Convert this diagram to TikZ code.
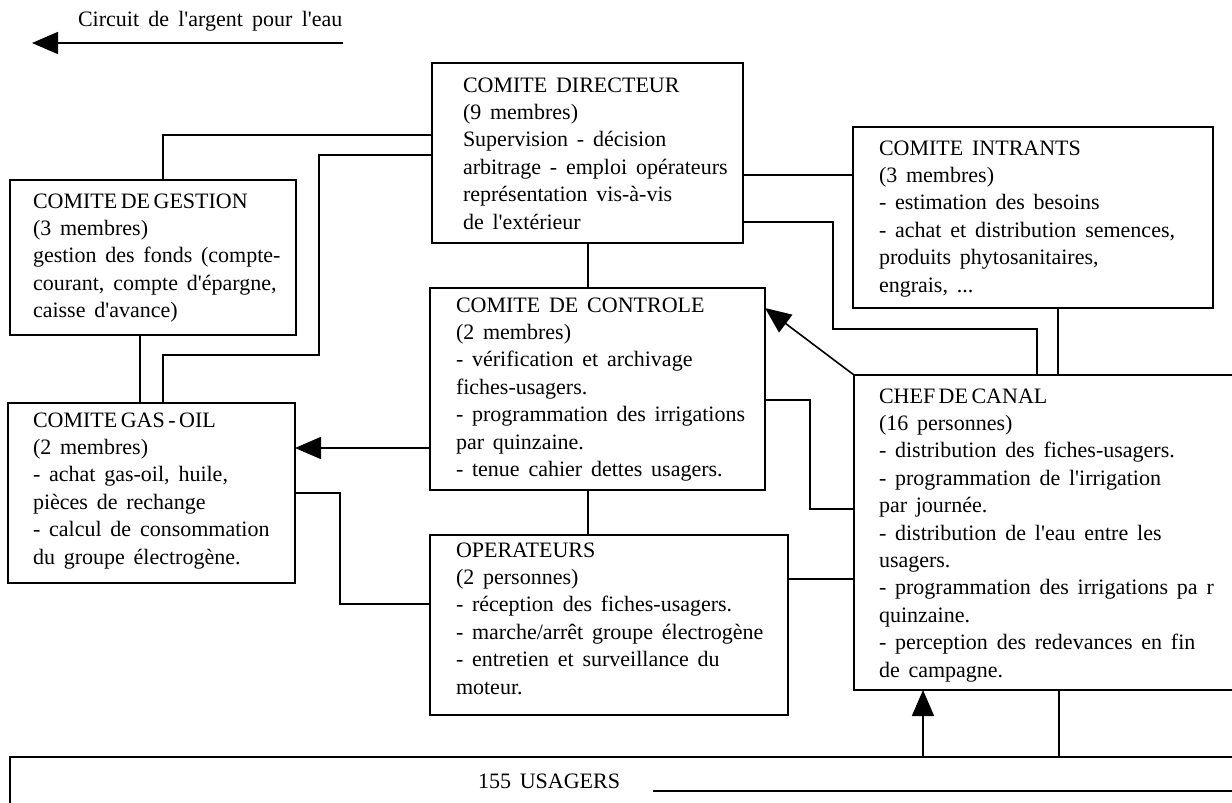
\documentclass[tikz,border=0pt]{standalone}
\usepackage{fontspec}
\setmainfont{Liberation Serif}
\usetikzlibrary{arrows.meta,calc}
\newcommand{\btxt}[1]{\begin{minipage}[t]{400pt}\fontsize{22}{27.4}\selectfont\spaceskip=0.4em plus 0.2em\relax\raggedright #1\end{minipage}}
\newcommand{\tight}[1]{{\spaceskip=3.5pt\relax #1}}
\newcommand{\ap}{\textquotesingle}
\tikzset{
  box/.style={draw, line width=1.6pt, rectangle, inner sep=0pt, outer sep=0pt, anchor=north west},
  txt/.style={inner sep=0pt, outer sep=0pt, anchor=base west},
  link/.style={line width=1.6pt},
  arr/.style={line width=1.6pt, -{Triangle[length=26pt,width=22pt]}},
}
\begin{document}
\begin{tikzpicture}[x=1pt,y=-1pt]
\useasboundingbox (0,0) rectangle (1232,803);
\clip (0,0) rectangle (1232,803);

% legend
\node[txt] (leg) at (78,27) {\fontsize{22}{25}\selectfont\spaceskip=0.42em plus 0.2em\relax Circuit de l\ap argent pour l\ap eau};
\coordinate (legR) at (343,43);
\coordinate (legL) at (32,43);
\draw[arr] (legR) -- (legL);

% boxes
\node[box, minimum width=311pt, minimum height=180pt] (dir) at (432,63) {};
\node[box, minimum width=286pt, minimum height=155pt] (ges) at (10,180) {};
\node[box, minimum width=360pt, minimum height=181pt] (intr) at (853,127) {};
\node[box, minimum width=335pt, minimum height=202pt] (ctrl) at (430,288) {};
\node[box, minimum width=287pt, minimum height=180pt] (gas) at (8,403) {};
\node[box, minimum width=400pt, minimum height=315pt] (chef) at (854,375) {};
\node[box, minimum width=358pt, minimum height=180pt] (op) at (430,535) {};
\node[box, minimum width=1240pt, minimum height=70pt] (usa) at (10,757) {};

% texts
\node[txt] (tdir) at (463,92) {\btxt{COMITE DIRECTEUR\\(9 membres)\\Supervision - décision\\arbitrage - emploi opérateurs\\représentation vis-à-vis\\de l\ap extérieur}};
\node[txt] (tges) at (33,208) {\btxt{\tight{COMITE DE GESTION}\\(3 membres)\\gestion des fonds (compte-\\courant, compte d\ap épargne,\\caisse d\ap avance)}};
\node[txt] (tintr) at (879,155) {\btxt{COMITE INTRANTS\\(3 membres)\\- estimation des besoins\\- achat et distribution semences,\\produits phytosanitaires,\\engrais, ...}};
\node[txt] (tctrl) at (456,312) {\btxt{COMITE DE CONTROLE\\(2 membres)\\- vérification et archivage\\fiches-usagers.\\- programmation des irrigations\\par quinzaine.\\- tenue cahier dettes usagers.}};
\node[txt] (tgas) at (33,427) {\btxt{\tight{COMITE GAS - OIL}\\(2 membres)\\- achat gas-oil, huile,\\pièces de rechange\\- calcul de consommation\\du groupe électrogène.}};
\node[txt] (tchef) at (879,403) {\btxt{\tight{CHEF DE CANAL}\\(16 personnes)\\- distribution des fiches-usagers.\\- programmation de l\ap irrigation\\par journée.\\- distribution de l\ap eau entre les\\usagers.\\- programmation des irrigations pa r\\quinzaine.\\- perception des redevances en fin\\de campagne.}};
\node[txt] (top) at (456,557) {\btxt{OPERATEURS\\(2 personnes)\\- réception des fiches-usagers.\\- marche/arrêt groupe électrogène\\- entretien et surveillance du\\moteur.}};
\node[txt] (tusa) at (478,788) {\btxt{155 USAGERS}};

% connectors
\draw[link] (ges.north -| 163,0) |- (dir.west |- 0,135);
\draw[link] (gas.north -| 163,0) |- (319,355) |- (dir.west |- 0,155);
\draw[link] (ges.south -| 140,0) -- (gas.north -| 140,0);
\draw[link] (dir.east |- 0,175) -- (intr.west |- 0,175);
\draw[link] (dir.east |- 0,222) -| (833,329) -| (chef.north -| 1037,0);
\draw[link] (dir.south -| 588,0) -- (ctrl.north -| 588,0);
\draw[link] (ctrl.south -| 588,0) -- (op.north -| 588,0);
\draw[link] (intr.south -| 1058,0) -- (chef.north -| 1058,0);
\draw[arr] (ctrl.west |- 0,448) -- (gas.east |- 0,448);
\draw[arr] (chef.north west) -- (ctrl.east |- 0,308);
\draw[link] (ctrl.east |- 0,400) -| (810,509) -- (chef.west |- 0,509);
\draw[link] (gas.east |- 0,493) -| (340,604) -- (op.west |- 0,604);
\draw[link] (op.east |- 0,579) -- (chef.west |- 0,579);
\draw[arr] (usa.north -| 923,0) -- (chef.south -| 923,0);
\draw[link] (chef.south -| 1059,0) -- (usa.north -| 1059,0);

% partial lower edge of the usagers strip
\coordinate (ub1) at (653,791);
\coordinate (ub2) at (1240,791);
\draw[line width=1.2pt] (ub1) -- (ub2);
\end{tikzpicture}
\end{document}
